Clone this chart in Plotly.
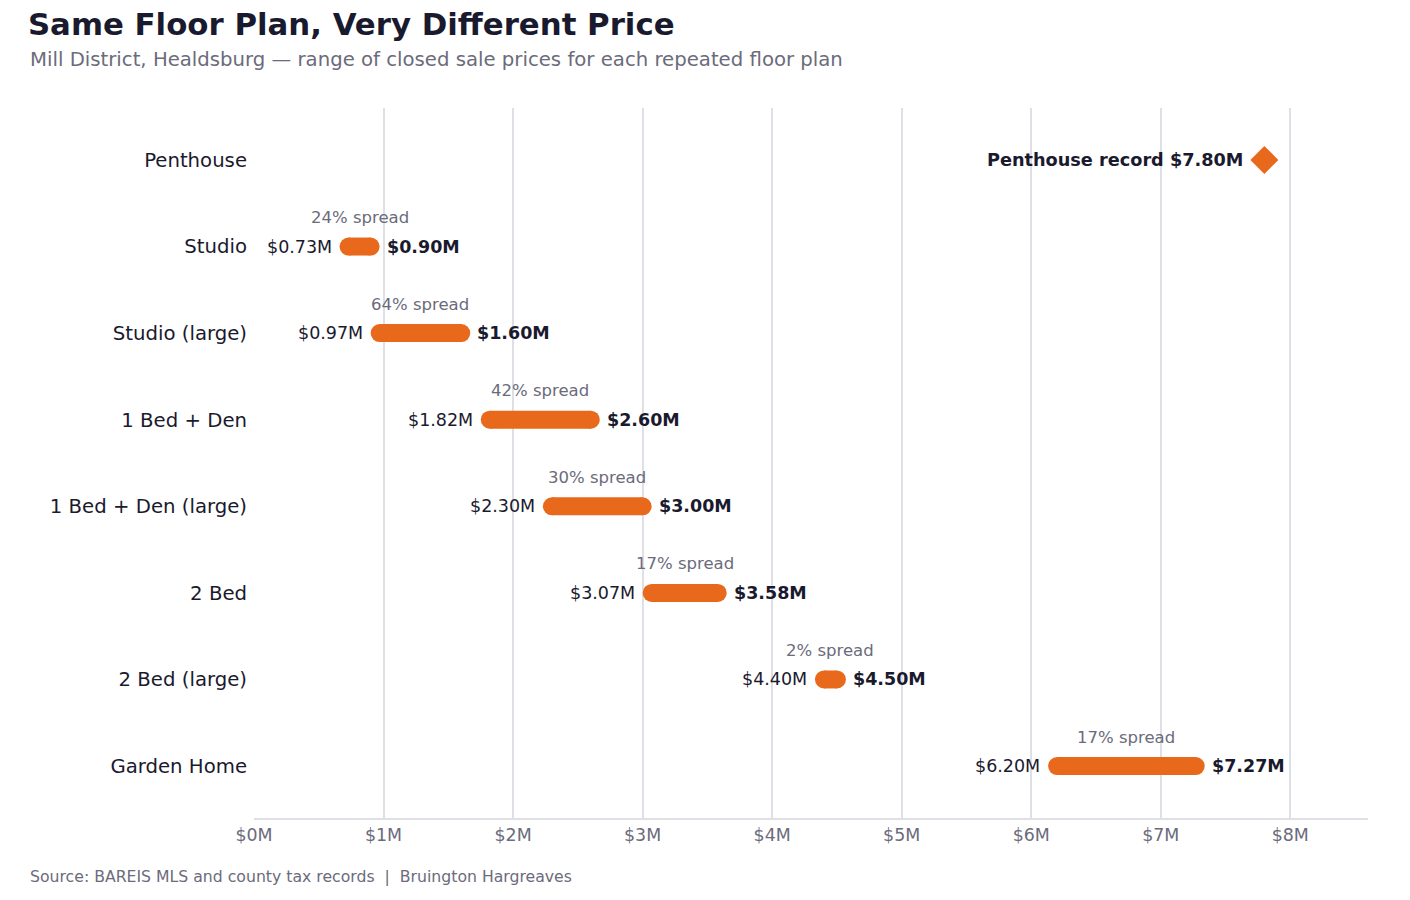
import plotly.graph_objects as go

# floor plans, top to bottom
plans = ["Penthouse", "Studio", "Studio (large)", "1 Bed + Den", "1 Bed + Den (large)",
         "2 Bed", "2 Bed (large)", "Garden Home"]
low_m = [None, 0.73, 0.97, 1.82, 2.30, 3.07, 4.40, 6.20]
high_m = [None, 0.90, 1.60, 2.60, 3.00, 3.58, 4.50, 7.27]
spread_pct = [None, 24, 64, 42, 30, 17, 2, 17]
penthouse_record = 7.80
x_ticks = [0, 1, 2, 3, 4, 5, 6, 7, 8]
x_tick_text = ["$" + str(t) + "M" for t in x_ticks]

ORANGE = "#E8691C"
DARK = "#1a1a2e"
GREY = "#6b6b7b"
GRID = "#dfdfe6"
FONT = "DejaVu Sans"

fig = go.Figure()
annots = []

for plan, lo, hi, sp in zip(plans, low_m, high_m, spread_pct):
    if lo is None:
        continue
    fig.add_trace(go.Scatter(
        x=[lo, hi], y=[plan, plan], mode="lines+markers",
        line=dict(color=ORANGE, width=18),
        marker=dict(color=ORANGE, size=18, line=dict(width=0)),
        hoverinfo="skip", showlegend=False,
    ))
    annots.append(dict(x=lo, y=plan, text="$%.2fM" % lo, showarrow=False,
                       xanchor="right", xshift=-15, font=dict(size=17.5, color=DARK)))
    annots.append(dict(x=hi, y=plan, text="<b>$%.2fM</b>" % hi, showarrow=False,
                       xanchor="left", xshift=14, font=dict(size=17.5, color=DARK)))
    annots.append(dict(x=(lo + hi) / 2, y=plan, text="%d%% spread" % sp, showarrow=False,
                       xanchor="center", yshift=29, font=dict(size=16.5, color=GREY)))

# penthouse record marker
fig.add_trace(go.Scatter(
    x=[penthouse_record], y=[plans[0]], mode="markers",
    marker=dict(symbol="diamond", color=ORANGE, size=21.5, line=dict(width=0)),
    hoverinfo="skip", showlegend=False,
))
annots.append(dict(x=penthouse_record, y=plans[0],
                   text="<b>Penthouse record $%.2fM</b>" % penthouse_record,
                   showarrow=False, xanchor="right", xshift=-19,
                   font=dict(size=17.7, color=DARK)))

# subtitle, source
annots.append(dict(xref="paper", yref="paper", x=-0.2029, y=1.069, xanchor="left", yanchor="middle",
                   text="Mill District, Healdsburg — range of closed sale prices for each repeated floor plan",
                   showarrow=False, font=dict(size=19.7, color=GREY)))
annots.append(dict(xref="paper", yref="paper", x=-0.2029, y=-0.083, xanchor="left", yanchor="middle",
                   text="Source: BAREIS MLS and county tax records  |  Bruington Hargreaves",
                   showarrow=False, font=dict(size=15.7, color=GREY)))

fig.update_layout(
    width=1394, height=884,
    margin=dict(l=246, r=34, t=100, b=74),
    paper_bgcolor="white", plot_bgcolor="white",
    font=dict(family=FONT, color=DARK),
    title=dict(text="<b>Same Floor Plan, Very Different Price</b>",
               xref="container", yref="container", x=0.0143, y=0.9815,
               xanchor="left", yanchor="middle", font=dict(size=30.8, color=DARK)),
    annotations=annots,
    xaxis=dict(range=[0, 8.6], tickvals=x_ticks, ticktext=x_tick_text,
               showgrid=True, gridcolor=GRID, gridwidth=1.5, zeroline=False,
               showline=True, linecolor=GRID, linewidth=2,
               tickfont=dict(size=17.4, color=GREY), ticks=""),
    yaxis=dict(type="category", categoryorder="array", categoryarray=plans,
               range=[7.6, -0.6], showgrid=False, zeroline=False, showline=False,
               tickfont=dict(size=19.7, color=DARK), ticks="", ticklabelstandoff=6),
)

fig.write_html("out.html")
